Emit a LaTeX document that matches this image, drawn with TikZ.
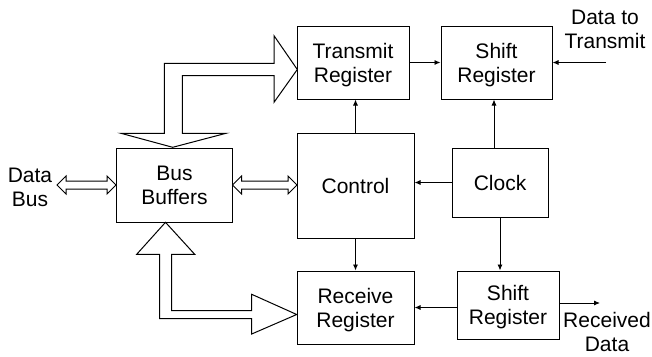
\documentclass[tikz,border=0pt]{standalone}
\usepackage{fontspec}
\setmainfont{Liberation Sans}
\usetikzlibrary{arrows.meta}
\tikzset{
  box/.style={draw, line width=1pt, inner sep=0pt, align=center, text depth=0pt},
  lbl/.style={align=center, inner sep=0pt},
  conn/.style={line width=0.9pt, -{Latex[length=6pt,width=5pt]}},
  busarrow/.style={draw, line width=1pt, line join=miter, fill=white},
}
\begin{document}
\begin{tikzpicture}[x=1pt, y=-1pt, font=\fontsize{21}{24}\selectfont]
\useasboundingbox (0,0) rectangle (652,356);

% boxes
\node[box, minimum width=116pt, minimum height=74pt] (bb) at (174.5,185) {Bus\\Buffers};
\node[box, minimum width=112pt, minimum height=73pt] (tr) at (353,62.5) {Transmit\\Register};
\node[box, minimum width=111pt, minimum height=73pt] (st) at (496.5,62.5) {Shift\\Register};
\node[box, minimum width=117pt, minimum height=105pt] (ct) at (355.5,185.5) {Control};
\node[box, minimum width=96pt, minimum height=69pt] (ck) at (500,182.5) {Clock};
\node[box, minimum width=117pt, minimum height=73pt] (rr) at (355.5,307.5) {Receive\\Register};
\node[box, minimum width=102pt, minimum height=68pt] (sb) at (508,305) {Shift\\Register};

% labels
\node[lbl] (dtt) at (605,29) {Data to\\Transmit};
\node[lbl] (rdl) at (607,332) {Received\\Data};
\node[lbl] (db) at (30,187) {Data\\Bus};

\coordinate (dttend) at (606,62.5);
\coordinate (rdend) at (600,303);

% thin connectors
\draw[conn] (tr.east) -- (st.west);
\draw[conn] (dttend) -- (st.east);
\draw[conn] (ct.north) -- (ct.north |- tr.south);
\draw[conn] ([xshift=-6pt]ck.north) -- ([xshift=-6pt]ck.north |- st.south);
\draw[conn] (ck.west) -- (ck.west -| ct.east);
\draw[conn] (ck.south) -- (ck.south |- sb.north);
\draw[conn] (ct.south) -- (ct.south |- rr.north);
\draw[conn] (sb.west |- rr.east) -- (rr.east);
\draw[conn] (sb.east |- rdend) -- (rdend);

% double hollow arrows
\draw[busarrow] (57,185) -- (66,176) -- (66,181) -- (107,181) -- (107,176) -- (116,185)
  -- (107,194) -- (107,189) -- (66,189) -- (66,194) -- cycle;
\draw[busarrow] (232.5,185) -- (241.5,176) -- (241.5,181) -- (288,181) -- (288,176) -- (297,185)
  -- (288,194) -- (288,189) -- (241.5,189) -- (241.5,194) -- cycle;

% big bus arrow to transmit register and bus buffers
\draw[busarrow] (172.7,147.3) -- (226,133.3) -- (182.3,133.3) -- (182.3,75.7) -- (274,75.7)
  -- (274,102.3) -- (297.3,69.5) -- (274,35.7) -- (274,63.3) -- (164.3,63.3)
  -- (164.3,133.3) -- (121,133.3) -- cycle;

% big bus arrow between bus buffers and receive register
\draw[busarrow] (165.5,222.3) -- (194.7,254.3) -- (171.7,254.3) -- (171.7,310.5) -- (251.7,310.5)
  -- (251.7,294.3) -- (296.7,314.5) -- (251.7,334) -- (251.7,318.5) -- (159.7,318.5)
  -- (159.7,254.3) -- (136.7,254.3) -- cycle;
\end{tikzpicture}
\end{document}
